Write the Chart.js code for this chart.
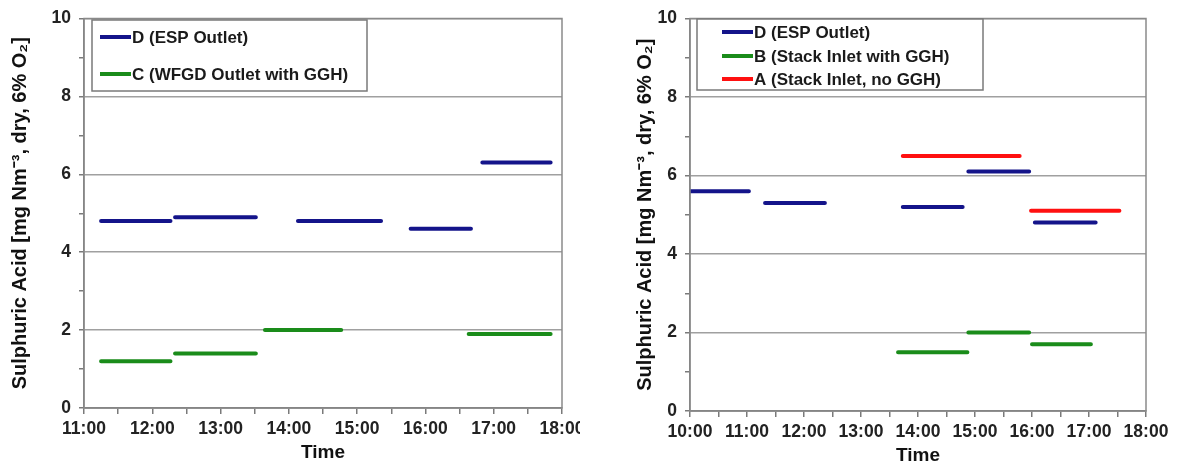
<!DOCTYPE html>
<html>
<head>
<meta charset="utf-8">
<script src="https://cdn.jsdelivr.net/npm/chart.js@4.4.0/dist/chart.umd.min.js"></script>
<style>
  body { margin: 0; background: #fff; width: 1177px; height: 471px; overflow: hidden; position: relative; }
  .panel { position: absolute; top: 0; height: 471px; }
  #panelLeft { left: 0; width: 580px; }
  #panelRight { left: 590px; width: 587px; }
</style>
</head>
<body>
<div class="panel" id="panelLeft"><canvas id="chartLeft" width="580" height="471"></canvas></div>
<div class="panel" id="panelRight"><canvas id="chartRight" width="587" height="471"></canvas></div>
<script>
// tick labels
const yTickLabels = [0, 2, 4, 6, 8, 10];
const hoursLeft = ['11:00', '12:00', '13:00', '14:00', '15:00', '16:00', '17:00', '18:00'];
const hoursRight = ['10:00', '11:00', '12:00', '13:00', '14:00', '15:00', '16:00', '17:00', '18:00'];

// left panel: sampling periods (start, end) and mean values
const espStartL = ['11:15', '12:20', '14:08', '15:47', '16:50'];
const espEndL   = ['12:16', '13:31', '15:21', '16:40', '17:50'];
const espValL   = [4.8, 4.9, 4.8, 4.6, 6.3];
const wfgdStartL = ['11:15', '12:20', '13:39', '16:38'];
const wfgdEndL   = ['12:16', '13:31', '14:46', '17:50'];
const wfgdValL   = [1.2, 1.4, 2.0, 1.9];

// right panel
const espStartR = ['10:00', '11:19', '13:44', '14:53', '16:03'];
const espEndR   = ['11:02', '12:22', '14:47', '15:57', '17:07'];
const espValR   = [5.6, 5.3, 5.2, 6.1, 4.8];
const gghStartR = ['13:39', '14:53', '16:00'];
const gghEndR   = ['14:52', '15:57', '17:02'];
const gghValR   = [1.5, 2.0, 1.7];
const noGghStartR = ['13:44', '15:59'];
const noGghEndR   = ['15:47', '17:32'];
const noGghValR   = [6.5, 5.1];

const BLUE = '#14148a';
const GREEN = '#1a8c1a';
const RED = '#ff1010';
const FONT = '"Liberation Sans", Arial, sans-serif';

const toHours = (s) => {
  const [h, m] = s.split(':').map(Number);
  return h + m / 60;
};

// each period becomes a flat segment, broken by a null point
const segments = (starts, ends, vals) => {
  const pts = [];
  vals.forEach((v, i) => {
    pts.push({ x: toHours(starts[i]), y: v });
    pts.push({ x: toHours(ends[i]), y: v });
    pts.push({ x: toHours(ends[i]), y: null });
  });
  return pts;
};

const lineSet = (label, color, pts) => ({
  label: label,
  data: pts,
  borderColor: color,
  backgroundColor: color,
  borderWidth: 4,
  borderCapStyle: 'round',
  pointRadius: 0,
  spanGaps: false,
  tension: 0
});

// boxed legend inside the plot + frame round the plot area
const boxLegend = {
  id: 'boxLegend',
  afterDraw(chart, args, opts) {
    const ctx = chart.ctx;
    const a = chart.chartArea;
    ctx.save();
    ctx.strokeStyle = '#8a8a8a';
    ctx.lineWidth = 1.5;
    ctx.strokeRect(a.left, a.top, a.right - a.left, a.bottom - a.top);

    ctx.fillStyle = '#fff';
    ctx.fillRect(opts.x, opts.y, opts.w, opts.h);
    ctx.strokeStyle = '#7a7a7a';
    ctx.strokeRect(opts.x, opts.y, opts.w, opts.h);

    ctx.font = 'bold 17px ' + FONT;
    ctx.textBaseline = 'middle';
    chart.data.datasets.forEach((ds, i) => {
      const y = opts.rows[i];
      ctx.strokeStyle = ds.borderColor;
      ctx.lineWidth = 4;
      ctx.beginPath();
      ctx.moveTo(opts.lineX1, y);
      ctx.lineTo(opts.lineX2, y);
      ctx.stroke();
      ctx.fillStyle = '#1a1a1a';
      ctx.fillText(ds.label, opts.lineX2 + 1, y + 1);
    });
    ctx.restore();
  }
};

const makeOptions = (xMin, xMax, hourLabels, yWidth, xHeight, titlePad, timePad, padRight, legendOpts) => ({
  responsive: false,
  animation: false,
  layout: { padding: { top: 15, right: padRight, left: 0, bottom: 0 } },
  plugins: {
    legend: { display: false },
    tooltip: { enabled: false },
    boxLegend: legendOpts
  },
  scales: {
    x: {
      type: 'linear',
      min: xMin,
      max: xMax,
      afterFit: (s) => { s.height = xHeight; s.paddingLeft = 0; s.paddingRight = 0; },
      border: { color: '#7a7a7a', width: 1.5 },
      grid: { color: 'transparent', tickColor: '#7a7a7a', tickLength: 6, lineWidth: 1.5 },
      ticks: {
        stepSize: 0.5,
        autoSkip: false,
        maxRotation: 0,
        padding: 5,
        color: '#222',
        font: { family: FONT, size: 17.5, weight: 'bold' },
        callback: (v) => Number.isInteger(v) ? hourLabels[v - xMin] : ''
      },
      title: {
        display: true,
        text: 'Time',
        color: '#111',
        font: { family: FONT, size: 19, weight: 'bold' },
        padding: { top: 0, bottom: timePad }
      }
    },
    y: {
      min: 0,
      max: 10,
      afterFit: (s) => { s.width = yWidth; },
      border: { color: '#7a7a7a', width: 1.5 },
      grid: {
        color: (c) => (c.tick && c.tick.value % 2 === 0) ? '#a0a0a0' : 'transparent',
        tickColor: '#7a7a7a',
        tickLength: 5,
        lineWidth: 1.5
      },
      ticks: {
        stepSize: 1,
        autoSkip: false,
        padding: 8,
        color: '#222',
        font: { family: FONT, size: 17.5, weight: 'bold' },
        callback: (v) => yTickLabels.includes(v) ? String(v) : ''
      },
      title: {
        display: true,
        text: 'Sulphuric Acid [mg Nm\u207B\u00B3, dry, 6% O\u2082]',
        color: '#111',
        font: { family: FONT, size: 20, weight: 'bold' },
        padding: { top: titlePad, bottom: 0 }
      }
    }
  }
});

const initCharts = () => {
  new Chart(document.getElementById('chartLeft').getContext('2d'), {
    type: 'line',
    data: {
      datasets: [
        lineSet('D (ESP Outlet)', BLUE, segments(espStartL, espEndL, espValL)),
        lineSet('C (WFGD Outlet with GGH)', GREEN, segments(wfgdStartL, wfgdEndL, wfgdValL))
      ]
    },
    options: makeOptions(11, 18, hoursLeft, 84, 63, 8, 7, 18,
      { x: 92, y: 20, w: 275, h: 71, rows: [37, 74], lineX1: 100, lineX2: 131 }),
    plugins: [boxLegend]
  });

  new Chart(document.getElementById('chartRight').getContext('2d'), {
    type: 'line',
    data: {
      datasets: [
        lineSet('D (ESP Outlet)', BLUE, segments(espStartR, espEndR, espValR)),
        lineSet('B (Stack Inlet with GGH)', GREEN, segments(gghStartR, gghEndR, gghValR)),
        lineSet('A (Stack Inlet, no GGH)', RED, segments(noGghStartR, noGghEndR, noGghValR))
      ]
    },
    options: makeOptions(10, 18, hoursRight, 100, 60, 43, 4, 31,
      { x: 107, y: 19, w: 286, h: 71, rows: [32, 56, 79], lineX1: 132, lineX2: 163 }),
    plugins: [boxLegend]
  });
};

document.addEventListener('DOMContentLoaded', initCharts);
</script>
</body>
</html>
